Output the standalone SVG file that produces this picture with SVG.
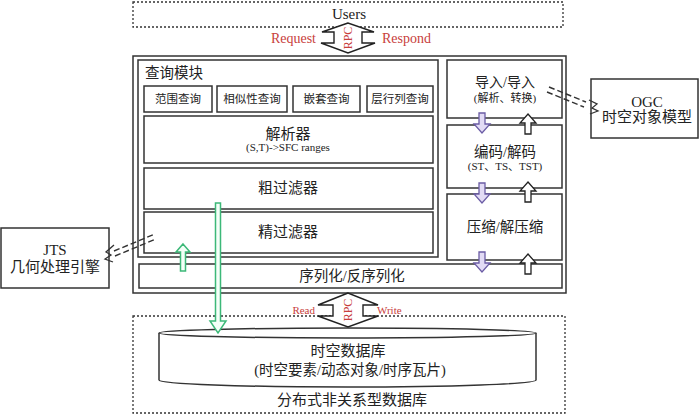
<svg xmlns="http://www.w3.org/2000/svg" width="700" height="414" viewBox="0 0 700 414">
<style>
.box{fill:#fff;stroke:#333;stroke-width:1.5}
.dot{fill:none;stroke:#333;stroke-width:1.3;stroke-dasharray:2,2}
.t{font-family:"Liberation Serif","Noto Sans CJK SC",serif;fill:#222;text-anchor:middle}
.red{font-family:"Liberation Serif","Noto Sans CJK SC",serif;fill:#c8403c}
.rpc{fill:#fff;stroke:#222;stroke-width:1.4}
.pur{fill:#e2dbf5;stroke:#6b5ca5;stroke-width:1.3}
.wht{fill:#fff;stroke:#222;stroke-width:1.3}
.grn{fill:#f4fff8;stroke:#3cb878;stroke-width:1.5}
.dash{fill:none;stroke:#333;stroke-width:1.4;stroke-dasharray:6,3}
.sq{fill:none;stroke:#333;stroke-width:1.3}
</style>
<defs>
<path id="down" d="M-3,0 H3 V11 H8 L0,20 L-8,11 H-3 Z"/>
<path id="up" d="M0,0 L8,9 H3 V20 H-3 V9 H-8 Z"/>
</defs>
<rect width="700" height="414" fill="#fff"/>

<g id="users">
<rect class="dot" x="133" y="2" width="430" height="25"/>
<text class="t" x="349" y="19" font-size="15">Users</text>
</g>

<g id="main-frame">
<rect class="box" x="133" y="56" width="433" height="237"/>
</g>

<g id="query-module">
<rect class="box" x="138" y="60" width="300" height="197"/>
<text class="t" x="145" y="78" font-size="14.5" style="text-anchor:start">查询模块</text>
</g>
<g id="range-query">
<rect class="box" x="144" y="86" width="68" height="26"/>
<text class="t" x="178" y="103" font-size="11.5">范围查询</text>
</g>
<g id="similar-query">
<rect class="box" x="217" y="86" width="70" height="26"/>
<text class="t" x="252" y="103" font-size="11.5">相似性查询</text>
</g>
<g id="nested-query">
<rect class="box" x="293" y="86" width="67" height="26"/>
<text class="t" x="326.5" y="103" font-size="11.5">嵌套查询</text>
</g>
<g id="layer-query">
<rect class="box" x="367" y="86" width="66" height="26"/>
<text class="t" x="400" y="103" font-size="11.5">层行列查询</text>
</g>
<g id="parser">
<rect class="box" x="144" y="116" width="289" height="47"/>
<text class="t" x="288" y="139" font-size="15">解析器</text>
<text class="t" x="288" y="151" font-size="11">(S,T)-&gt;SFC ranges</text>
</g>
<g id="coarse-filter">
<rect class="box" x="144" y="168" width="289" height="41"/>
<text class="t" x="288" y="193" font-size="15">粗过滤器</text>
</g>
<g id="fine-filter">
<rect class="box" x="144" y="212" width="289" height="41"/>
<text class="t" x="288" y="237" font-size="15">精过滤器</text>
</g>
<g id="serialize">
<rect class="box" x="139" y="264" width="423" height="24"/>
<text class="t" x="352" y="281" font-size="14.5">序列化/反序列化</text>
</g>

<g id="import">
<rect class="box" x="447" y="60" width="115" height="58"/>
<text class="t" x="505" y="87" font-size="14">导入/导入</text>
<text class="t" x="505" y="102" font-size="11">(解析、转换)</text>
</g>
<g id="encode">
<rect class="box" x="447" y="125" width="115" height="63"/>
<text class="t" x="505" y="157" font-size="14.5">编码/解码</text>
<text class="t" x="505" y="170" font-size="11">(ST、TS、TST)</text>
</g>
<g id="compress">
<rect class="box" x="447" y="194" width="115" height="66"/>
<text class="t" x="505" y="232" font-size="14.5">压缩/解压缩</text>
</g>

<g id="ogc">
<rect class="box" x="591" y="79" width="107" height="59"/>
<text class="t" x="647" y="107" font-size="15">OGC</text>
<text class="t" x="647" y="122" font-size="15">时空对象模型</text>
</g>
<g id="jts">
<rect class="box" x="1" y="228" width="108" height="60"/>
<text class="t" x="55" y="255" font-size="15">JTS</text>
<text class="t" x="55" y="272" font-size="15">几何处理引擎</text>
</g>

<g id="nosql">
<rect class="dot" x="133" y="316" width="432" height="97"/>
<text class="t" x="352" y="405" font-size="15">分布式非关系型数据库</text>
</g>
<g id="database">
<path class="box" d="M159,333 V380 A188.5,7 0 0 0 536,380 V333"/>
<ellipse class="box" cx="347.5" cy="333" rx="188.5" ry="5"/>
<text class="t" x="348" y="356" font-size="15">时空数据库</text>
<text class="t" x="350" y="375" font-size="14.5">(时空要素/动态对象/时序瓦片)</text>
</g>

<g id="connectors">
<polygon class="rpc" points="348,23 322,32 334,32 334,43 321,43 348,53 375,43 362,43 362,32 374,32"/>
<text class="red" x="0" y="0" font-size="12" text-anchor="middle" dominant-baseline="central" transform="translate(348,38) rotate(-90)">RPC</text>
<text class="red" x="316" y="43" font-size="14" text-anchor="end">Request</text>
<text class="red" x="382" y="43" font-size="14">Respond</text>

<polygon class="rpc" points="348,293 318,305 333,305 333,316 318,316 348,327 378,316 363,316 363,305 378,305"/>
<text class="red" x="0" y="0" font-size="12" text-anchor="middle" dominant-baseline="central" transform="translate(348,310) rotate(-90)">RPC</text>
<text class="red" x="315" y="314" font-size="11" text-anchor="end">Read</text>
<text class="red" x="377" y="314" font-size="11">Write</text>

<use href="#down" class="pur" x="482" y="113"/>
<use href="#up" class="wht" x="528" y="114"/>
<use href="#down" class="pur" x="482" y="183"/>
<use href="#up" class="wht" x="528" y="182"/>
<use href="#down" class="pur" x="482" y="252"/>
<use href="#up" class="wht" x="528" y="254"/>

<polygon class="grn" points="215.5,203 220.5,203 220.5,321 226,321 218,333 210,321 215.5,321"/>
<polygon class="grn" points="183,244 190,252 185.5,252 185.5,271 180.5,271 180.5,252 176,252"/>

<line class="dash" x1="114" y1="251" x2="155" y2="234"/>
<line class="dash" x1="115" y1="256" x2="156" y2="239"/>
<path class="sq" d="M114,245 L106,252 L111,255 L105,259 L113,262"/>

<line class="dash" x1="549" y1="87" x2="586" y2="102"/>
<line class="dash" x1="547" y1="92" x2="584" y2="107"/>
<path class="sq" d="M589,100 L597,104 L592,108 L598,111 L590,114"/>
</g>
</svg>
